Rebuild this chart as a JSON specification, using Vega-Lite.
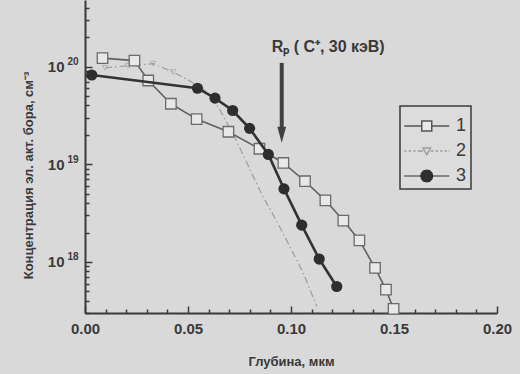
{
  "$schema": "https://vega.github.io/schema/vega-lite/v6.json",
  "width": 412,
  "height": 313,
  "autosize": {"type": "none"},
  "padding": {"left": 85, "top": 0, "right": 23, "bottom": 61},
  "background": "#d9d9d9",
  "config": {
    "view": {"stroke": null},
    "font": "Liberation Sans",
    "axis": {
      "domainColor": "#3a3a3a",
      "domainWidth": 2,
      "tickColor": "#3a3a3a",
      "tickWidth": 1.5,
      "labelColor": "#3a3a3a",
      "labelFont": "Liberation Sans",
      "labelFontWeight": "bold",
      "labelFontSize": 15,
      "titleColor": "#3a3a3a",
      "titleFont": "Liberation Sans",
      "titleFontWeight": "bold",
      "titleFontSize": 13,
      "grid": false,
      "labelOverlap": false,
      "labelFlush": false
    },
    "legend": {
      "orient": "none",
      "legendX": 315,
      "legendY": 106,
      "padding": 4,
      "strokeColor": "#3a3a3a",
      "strokeWidth": 1.5,
      "fillColor": "#dcdcdc",
      "labelFont": "Liberation Sans",
      "labelFontSize": 18,
      "labelColor": "#3a3a3a",
      "labelOffset": 20,
      "rowPadding": -1,
      "symbolSize": 900,
      "symbolOpacity": 1
    }
  },
  "datasets": {
    "profiles": [
      {"series": "1", "depth": 0.0085, "conc": 1.22e20},
      {"series": "1", "depth": 0.024, "conc": 1.15e20},
      {"series": "1", "depth": 0.0307, "conc": 7.2e19},
      {"series": "1", "depth": 0.0417, "conc": 4.16e19},
      {"series": "1", "depth": 0.0542, "conc": 2.9e19},
      {"series": "1", "depth": 0.0696, "conc": 2.15e19},
      {"series": "1", "depth": 0.0847, "conc": 1.44e19},
      {"series": "1", "depth": 0.0963, "conc": 1.03e19},
      {"series": "1", "depth": 0.1068, "conc": 6.7e18},
      {"series": "1", "depth": 0.1167, "conc": 4.27e18},
      {"series": "1", "depth": 0.1254, "conc": 2.65e18},
      {"series": "1", "depth": 0.1332, "conc": 1.66e18},
      {"series": "1", "depth": 0.1408, "conc": 8.7e17},
      {"series": "1", "depth": 0.1461, "conc": 5.2e17},
      {"series": "1", "depth": 0.1498, "conc": 3.3e17},
      {"series": "2", "depth": 0.0097, "conc": 9.7e19},
      {"series": "2", "depth": 0.0209, "conc": 1.02e20},
      {"series": "2", "depth": 0.033, "conc": 1.07e20},
      {"series": "2", "depth": 0.0427, "conc": 8.8e19},
      {"series": "2", "depth": 0.051, "conc": 7.1e19},
      {"series": "2", "depth": 0.0592, "conc": 5.5e19},
      {"series": "2", "depth": 0.0655, "conc": 3.6e19},
      {"series": "2", "depth": 0.0728, "conc": 1.87e19},
      {"series": "2", "depth": 0.0801, "conc": 8.8e18},
      {"series": "2", "depth": 0.0864, "conc": 4.66e18},
      {"series": "2", "depth": 0.0932, "conc": 2.58e18},
      {"series": "2", "depth": 0.0995, "conc": 1.43e18},
      {"series": "2", "depth": 0.1058, "conc": 7.8e17},
      {"series": "2", "depth": 0.1126, "conc": 3.5e17},
      {"series": "3", "depth": 0.0033, "conc": 8.2e19},
      {"series": "3", "depth": 0.0546, "conc": 6.0e19},
      {"series": "3", "depth": 0.0631, "conc": 4.75e19},
      {"series": "3", "depth": 0.0717, "conc": 3.55e19},
      {"series": "3", "depth": 0.0799, "conc": 2.33e19},
      {"series": "3", "depth": 0.089, "conc": 1.26e19},
      {"series": "3", "depth": 0.0966, "conc": 5.6e18},
      {"series": "3", "depth": 0.1052, "conc": 2.38e18},
      {"series": "3", "depth": 0.1137, "conc": 1.07e18},
      {"series": "3", "depth": 0.1222, "conc": 5.6e17}
    ]
  },
  "encoding": {
    "x": {
      "field": "depth",
      "type": "quantitative",
      "scale": {"domain": [0, 0.2], "nice": false, "zero": false},
      "axis": {
        "title": "Глубина, мкм",
        "values": [0, 0.01, 0.02, 0.03, 0.04, 0.05, 0.06, 0.07, 0.08, 0.09, 0.1, 0.11, 0.12, 0.13, 0.14, 0.15, 0.16, 0.17, 0.18, 0.19, 0.2],
        "labelExpr": "abs(datum.value*20 - round(datum.value*20)) < 0.001 ? format(datum.value, '.2f') : ''",
        "tickSize": {"condition": {"test": "abs(datum.value*20 - round(datum.value*20)) < 0.001", "value": -7}, "value": -4},
        "labelPadding": 15,
        "titleY": 48,
        "titleBaseline": "middle"
      }
    }
  },
  "layer": [
    {
      "data": {"name": "profiles"},
      "encoding": {
        "y": {
          "field": "conc",
          "type": "quantitative",
          "scale": {"type": "log", "domain": [3e17, 4.8e20], "nice": false},
          "axis": {
            "orient": "left",
            "title": "Концентрация эл. акт. бора, см⁻³",
            "values": [3e17, 4e17, 5e17, 6e17, 7e17, 8e17, 9e17, 1e18, 2e18, 3e18, 4e18, 5e18, 6e18, 7e18, 8e18, 9e18, 1e19, 2e19, 3e19, 4e19, 5e19, 6e19, 7e19, 8e19, 9e19, 1e20, 2e20, 3e20, 4e20],
            "labels": false,
            "tickSize": {"condition": {"test": "abs(log(datum.value)/LN10 - round(log(datum.value)/LN10)) < 0.001", "value": -7}, "value": -4},
            "titleX": -57,
            "titleY": 175,
            "titleBaseline": "middle",
            "titleAngle": -90
          }
        }
      },
      "layer": [
        {
          "transform": [{"filter": "datum.series == '2'"}],
          "mark": {"type": "line", "stroke": "#9c9c9c", "strokeWidth": 1.2, "strokeDash": [7, 3, 1.5, 3]}
        },
        {
          "transform": [{"filter": "datum.series == '2' && datum.depth < 0.045"}],
          "mark": {"type": "point", "shape": "triangle-down", "size": 30, "filled": false, "stroke": "#a4a4a4", "strokeWidth": 1}
        },
        {
          "transform": [{"filter": "datum.series == '1'"}],
          "mark": {"type": "line", "stroke": "#606060", "strokeWidth": 1.6}
        },
        {
          "transform": [{"filter": "datum.series == '1'"}],
          "mark": {"type": "point", "shape": "square", "size": 110, "filled": true, "fill": "#e8e8e8", "stroke": "#6a6a6a", "strokeWidth": 1.3, "opacity": 1}
        },
        {
          "transform": [{"filter": "datum.series == '3'"}],
          "mark": {"type": "line", "stroke": "#333333", "strokeWidth": 2.6}
        },
        {
          "transform": [{"filter": "datum.series == '3'"}],
          "mark": {"type": "circle", "size": 125, "fill": "#2e2e2e", "opacity": 1}
        }
      ]
    },
    {
      "encoding": {
        "y": {
          "field": "conc",
          "type": "quantitative",
          "scale": {"type": "log", "domain": [3e17, 4.8e20], "nice": false},
          "axis": {
            "orient": "left",
            "title": null,
            "domain": false,
            "ticks": false,
            "values": [1e18, 1e19, 1e20],
            "labelExpr": "'10'",
            "labelPadding": 21
          }
        }
      },
      "layer": [
        {
          "data": {"values": [{"depth": 0.0955, "conc": 1.09e20, "conc2": 2.15e19}]},
          "mark": {"type": "rule", "stroke": "#404040", "strokeWidth": 4},
          "encoding": {"y2": {"field": "conc2"}}
        },
        {
          "data": {"values": [{"depth": 0.0955, "conc": 2.0e19}]},
          "mark": {"type": "point", "shape": "M-0.55,-1L0.55,-1L0,1Z", "size": 256, "filled": true, "fill": "#404040", "opacity": 1}
        },
        {
          "data": {"values": [{"depth": 0.0906, "conc": 1.41e20, "label": "Rₚ ( C⁺, 30 кэВ)"}]},
          "mark": {"type": "text", "align": "left", "baseline": "alphabetic", "font": "Liberation Sans", "fontWeight": "bold", "fontSize": 16, "color": "#3a3a3a"},
          "encoding": {"text": {"field": "label"}}
        }
      ]
    },
    {
      "data": {"name": "profiles"},
      "mark": {"type": "point", "opacity": 0, "filled": true},
      "encoding": {
        "y": {
          "field": "conc",
          "type": "quantitative",
          "scale": {"type": "log", "domain": [3e17, 4.8e20], "nice": false},
          "axis": {
            "orient": "left",
            "title": null,
            "domain": false,
            "ticks": false,
            "values": [1e18, 1e19, 1e20],
            "labelExpr": "format(round(log(datum.value)/LN10), 'd')",
            "labelFontSize": 10,
            "labelPadding": 7,
            "labelOffset": -5
          }
        },
        "shape": {
          "field": "series", "type": "nominal",
          "scale": {"domain": ["1", "2", "3"], "range": [
            "M-1.05,0H0.117M0.783,0H1.95M0.117,-0.333H0.783V0.333H0.117Z",
            "M-1.05,0H-0.9M-0.75,0H-0.6M-0.45,0H-0.3M-0.15,0H0.2M0.7,0H0.9M1.05,0H1.2M1.35,0H1.5M1.65,0H1.8M1.9,0H1.95M0.2,-0.2H0.7L0.45,0.25Z",
            "M-1.05,0H1.95M0.85,0L0.796,0.2L0.65,0.346L0.45,0.4L0.25,0.346L0.104,0.2L0.05,0L0.104,-0.2L0.25,-0.346L0.45,-0.4L0.65,-0.346L0.796,-0.2Z"
          ]},
          "legend": {"title": null}
        },
        "fill": {
          "field": "series", "type": "nominal",
          "scale": {"domain": ["1", "2", "3"], "range": ["#e8e8e8", "#dcdcdc", "#2e2e2e"]},
          "legend": {"title": null}
        },
        "stroke": {
          "field": "series", "type": "nominal",
          "scale": {"domain": ["1", "2", "3"], "range": ["#555555", "#9c9c9c", "#2e2e2e"]},
          "legend": {"title": null}
        },
        "strokeWidth": {
          "field": "series", "type": "nominal",
          "scale": {"domain": ["1", "2", "3"], "range": [1.5, 1.2, 2.6]},
          "legend": {"title": null}
        }
      }
    }
  ],
  "resolve": {"axis": {"y": "independent"}}
}
